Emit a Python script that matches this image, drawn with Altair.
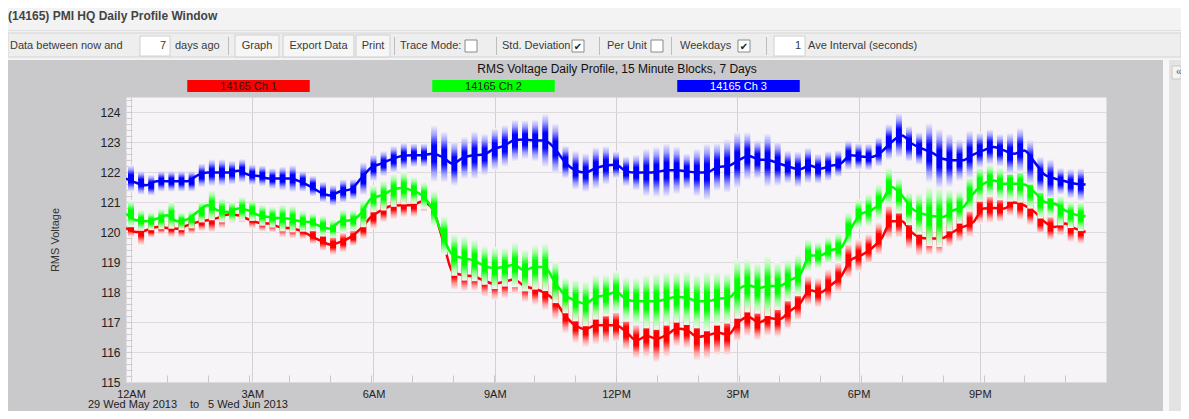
import altair as alt
import pandas as pd

# ---------------- data ----------------
series_names = ["14165 Ch 1", "14165 Ch 2", "14165 Ch 3"]
series_colors = ["#ff0000", "#00ff00", "#0000ff"]
series_tints = ["#ffa0a0", "#a0ffa0", "#a0a0ff"]
legend_text_colors = ["#1a1a1a", "#1a1a1a", "#ffffff"]

slot_hours = [i * 0.25 for i in range(95)]  # 15-minute blocks

ch1_mean = [
    120.13, 120.00, 120.06, 120.17, 120.13, 120.11, 120.22, 120.33, 120.39, 120.47, 120.58, 120.56,
    120.42, 120.31, 120.28, 120.17, 120.13, 120.06, 119.89, 119.72, 119.58, 119.67, 119.83, 120.11,
    120.50, 120.72, 120.87, 120.89, 120.89, 121.02, 120.78, 119.78, 118.67, 118.56, 118.53, 118.39,
    118.28, 118.33, 118.42, 118.20, 118.11, 117.98, 117.72, 117.22, 116.89, 116.76, 116.89, 116.89,
    116.89, 116.67, 116.39, 116.53, 116.44, 116.58, 116.78, 116.72, 116.50, 116.56, 116.64, 116.58,
    117.00, 117.17, 116.98, 117.13, 117.09, 117.36, 117.61, 118.06, 117.98, 118.22, 118.50, 119.06,
    119.22, 119.44, 119.78, 120.36, 120.36, 119.98, 119.80, 119.78, 119.80, 120.00, 120.17, 120.33,
    120.78, 120.80, 120.78, 120.98, 120.89, 120.67, 120.33, 120.17, 120.28, 120.11, 120.00]
ch2_mean = [
    120.61, 120.39, 120.36, 120.44, 120.56, 120.36, 120.42, 120.67, 120.89, 120.72, 120.67, 120.78,
    120.72, 120.56, 120.50, 120.47, 120.44, 120.36, 120.33, 120.20, 120.11, 120.36, 120.39, 120.61,
    121.11, 121.22, 121.39, 121.47, 121.39, 121.22, 120.78, 119.89, 119.24, 119.13, 119.06, 118.89,
    118.80, 118.83, 118.91, 118.72, 118.83, 118.83, 118.33, 117.89, 117.72, 117.61, 117.83, 117.89,
    118.00, 117.76, 117.69, 117.69, 117.69, 117.78, 117.83, 117.80, 117.69, 117.69, 117.78, 117.80,
    118.11, 118.22, 118.13, 118.20, 118.20, 118.39, 118.56, 119.22, 119.22, 119.39, 119.47, 120.11,
    120.60, 120.72, 121.00, 121.50, 121.22, 120.78, 120.61, 120.53, 120.50, 120.72, 120.83, 121.28,
    121.61, 121.72, 121.61, 121.61, 121.58, 121.33, 121.00, 120.94, 120.72, 120.58, 120.53]
ch3_mean = [
    121.78, 121.64, 121.56, 121.69, 121.69, 121.69, 121.69, 121.89, 121.98, 121.98, 121.98, 122.04,
    121.91, 121.87, 121.78, 121.78, 121.78, 121.69, 121.53, 121.33, 121.22, 121.36, 121.42, 121.78,
    122.14, 122.28, 122.42, 122.53, 122.56, 122.56, 122.61, 122.50, 122.28, 122.47, 122.56, 122.58,
    122.76, 122.87, 123.05, 123.08, 123.05, 123.05, 122.78, 122.33, 122.06, 121.98, 122.13, 122.22,
    122.24, 122.02, 121.98, 121.98, 122.00, 122.06, 122.06, 122.02, 121.98, 122.00, 122.17, 122.20,
    122.39, 122.53, 122.42, 122.39, 122.28, 122.17, 122.09, 122.22, 122.11, 122.20, 122.28, 122.56,
    122.52, 122.50, 122.67, 123.00, 123.22, 122.94, 122.78, 122.64, 122.44, 122.39, 122.39, 122.58,
    122.72, 122.83, 122.72, 122.61, 122.72, 122.33, 121.91, 121.78, 121.69, 121.61, 121.58]

ch1_sd = [
    0.30, 0.45, 0.25, 0.25, 0.30, 0.30, 0.30, 0.30, 0.40, 0.35, 0.30, 0.25,
    0.30, 0.30, 0.30, 0.35, 0.35, 0.30, 0.30, 0.35, 0.35, 0.35, 0.30, 0.35,
    0.40, 0.40, 0.45, 0.40, 0.40, 0.35, 0.45, 0.55, 0.60, 0.55, 0.50, 0.55,
    0.55, 0.55, 0.50, 0.55, 0.55, 0.60, 0.65, 0.60, 0.60, 0.60, 0.65, 0.60,
    0.55, 0.60, 0.60, 0.70, 0.80, 0.75, 0.60, 0.60, 0.80, 0.80, 0.75, 0.70,
    0.65, 0.65, 0.60, 0.60, 0.60, 0.60, 0.55, 0.50, 0.50, 0.55, 0.50, 0.60,
    0.55, 0.50, 0.55, 0.60, 0.55, 0.55, 0.60, 0.55, 0.55, 0.50, 0.50, 0.50,
    0.50, 0.50, 0.45, 0.45, 0.50, 0.45, 0.40, 0.45, 0.40, 0.45, 0.40]
ch2_sd = [
    0.45, 0.35, 0.30, 0.35, 0.45, 0.30, 0.30, 0.35, 0.50, 0.40, 0.35, 0.40,
    0.35, 0.35, 0.35, 0.45, 0.45, 0.35, 0.30, 0.35, 0.30, 0.40, 0.35, 0.45,
    0.45, 0.50, 0.55, 0.55, 0.45, 0.45, 0.60, 0.65, 0.70, 0.75, 0.70, 0.65,
    0.70, 0.65, 0.75, 0.70, 0.75, 0.80, 0.70, 0.60, 0.70, 0.75, 0.75, 0.70,
    0.70, 0.75, 0.80, 0.90, 0.95, 0.90, 0.85, 0.90, 0.90, 1.00, 0.90, 0.85,
    1.00, 0.90, 0.85, 1.00, 0.80, 0.70, 0.70, 0.55, 0.45, 0.45, 0.50, 0.55,
    0.50, 0.55, 0.60, 0.65, 0.60, 0.55, 0.70, 1.00, 1.00, 0.70, 0.55, 0.60,
    0.60, 0.55, 0.55, 0.60, 0.60, 0.55, 0.55, 0.45, 0.50, 0.45, 0.50]
ch3_sd = [
    0.45, 0.40, 0.35, 0.35, 0.35, 0.35, 0.35, 0.40, 0.45, 0.45, 0.40, 0.40,
    0.35, 0.35, 0.35, 0.40, 0.45, 0.35, 0.35, 0.35, 0.35, 0.40, 0.35, 0.55,
    0.45, 0.42, 0.45, 0.45, 0.40, 0.40, 0.95, 0.85, 0.75, 0.70, 0.80, 0.70,
    0.70, 0.70, 0.70, 0.65, 0.70, 0.90, 0.85, 0.55, 0.65, 0.65, 0.70, 0.65,
    0.45, 0.50, 0.60, 0.80, 0.85, 0.90, 0.80, 0.60, 0.80, 0.95, 0.80, 0.90,
    0.95, 0.80, 0.65, 0.90, 0.75, 0.55, 0.60, 0.60, 0.50, 0.50, 0.45, 0.50,
    0.45, 0.45, 0.50, 0.60, 0.75, 0.60, 0.55, 1.00, 1.00, 0.90, 0.70, 0.80,
    0.60, 0.60, 0.55, 0.70, 0.75, 0.75, 0.60, 0.65, 0.45, 0.50, 0.55]

x_tick_values = [0, 3, 6, 9, 12, 15, 18, 21]
x_tick_labels = ["12AM", "3AM", "6AM", "9AM", "12PM", "3PM", "6PM", "9PM"]
x_minor_ticks = list(range(1, 24))
y_tick_values = [115, 116, 117, 118, 119, 120, 121, 122, 123, 124]
y_minor_ticks = [round(115 + 0.2 * k, 1) for k in range(1, 48)]

chart_title = "RMS Voltage Daily Profile, 15 Minute Blocks, 7 Days"
y_title = "RMS Voltage"
window_title = "(14165) PMI HQ Daily Profile Window"

# ---------------- styling ----------------
FONT = "Liberation Sans"
PLOT_BG = "#f7f4f7"
PANEL_BG = "#c9c8cb"
W, H = 980, 285
OX, OY = 126, 97  # page position of the plot origin


def px(v):
    return v - OX


def py(v):
    return v - OY


XS = alt.Scale(domain=[0, 24], nice=False, zero=False)
YS = alt.Scale(domain=[115, 124.5], nice=False, zero=False)


def frame(mean, sd, name):
    return pd.DataFrame({
        "hour": slot_hours,
        "mean": mean,
        "lo": [m - s for m, s in zip(mean, sd)],
        "hi": [m + s for m, s in zip(mean, sd)],
        "series": name,
    })


def gradient(color, tint):
    return {
        "gradient": "linear", "x1": 0, "y1": 0, "x2": 0, "y2": 1,
        "stops": [
            {"offset": 0.0, "color": PLOT_BG},
            {"offset": 0.17, "color": tint},
            {"offset": 0.36, "color": color},
            {"offset": 0.64, "color": color},
            {"offset": 0.83, "color": tint},
            {"offset": 1.0, "color": PLOT_BG},
        ],
    }


main_x_axis = alt.Axis(
    orient="bottom", values=x_tick_values,
    labelExpr="%s[round(datum.value / 3)]" % str(x_tick_labels),
    grid=True, gridColor="#d3cfd3", ticks=False, domain=False,
    labelFont=FONT, labelFontSize=11, labelColor="#222222", labelPadding=6,
    title=None,
)
main_y_axis = alt.Axis(
    orient="left", values=y_tick_values, grid=True, gridColor="#dedade",
    ticks=False, domain=False, labelFont=FONT, labelFontSize=12,
    labelColor="#222222", labelPadding=6,
    title=y_title, titleFont=FONT, titleFontSize=11, titleFontWeight="normal",
    titleColor="#333333", titleX=-71, titleY=H / 2, titleAngle=270,
    titleAlign="center", titleBaseline="middle",
)
minor_x_axis = alt.Axis(
    orient="bottom", values=x_minor_ticks, labels=False, domain=False, grid=False,
    ticks=True, tickSize=7, offset=-7, tickColor="#c9c5c9", title=None,
)
minor_y_axis = alt.Axis(
    orient="left", values=y_minor_ticks, labels=False, domain=False, grid=False,
    ticks=True, tickSize=6, offset=-6, tickColor="#cfcbcf", title=None,
)

data_layers = []
means = [ch1_mean, ch2_mean, ch3_mean]
sds = [ch1_sd, ch2_sd, ch3_sd]
for k in range(3):
    df = frame(means[k], sds[k], series_names[k])
    bx = main_x_axis if k == 0 else None
    by = main_y_axis if k == 0 else None
    lx = minor_x_axis if k == 0 else None
    ly = minor_y_axis if k == 0 else None
    bars = alt.Chart(df).mark_bar(
        size=6, clip=True, orient="vertical",
        color=gradient(series_colors[k], series_tints[k]),
    ).encode(
        x=alt.X("hour:Q", scale=XS, axis=bx),
        y=alt.Y("lo:Q", scale=YS, axis=by),
        y2="hi:Q",
    )
    line = alt.Chart(df).mark_line(
        color=series_colors[k], strokeWidth=2.5, interpolate="monotone", clip=True,
    ).encode(
        x=alt.X("hour:Q", scale=XS, axis=lx),
        y=alt.Y("mean:Q", scale=YS, axis=ly),
    )
    data_layers += [bars, line]

# ---------------- legend (colored bars with labels) ----------------
legend_df = pd.DataFrame({"series": series_names})
band = alt.Scale(domain=series_names, range=[0, 735], paddingInner=0.5, paddingOuter=0.25)
legend_rect = alt.Chart(legend_df).mark_rect().encode(
    x=alt.X("series:N", scale=band, axis=None, sort=series_names),
    y=alt.value(py(80)), y2=alt.value(py(92)),
    color=alt.Color("series:N", scale=alt.Scale(domain=series_names, range=series_colors), legend=None),
)
legend_text = alt.Chart(legend_df).mark_text(
    font=FONT, fontSize=11, baseline="middle", align="center",
).encode(
    x=alt.X("series:N", scale=band, axis=None, sort=series_names, bandPosition=0.5),
    y=alt.value(py(86.5)),
    text="series:N",
    color=alt.Color("series:N", scale=alt.Scale(domain=series_names, range=legend_text_colors), legend=None),
)

# ---------------- window chrome ----------------
one = pd.DataFrame({"k": [0]})


def box(x1, x2, y1, y2, fill, stroke=None):
    kw = {"fill": fill}
    if stroke:
        kw["stroke"] = stroke
        kw["strokeWidth"] = 1
    return alt.Chart(one).mark_rect(**kw).encode(
        x=alt.value(px(x1)), x2=alt.value(px(x2)),
        y=alt.value(py(y1)), y2=alt.value(py(y2)),
    )


def label(text, x, y, size=11, align="left", color="#3a3a3a", weight="normal", font=FONT, baseline="middle"):
    return alt.Chart(one).mark_text(
        text=text, font=font, fontSize=size, align=align, baseline=baseline,
        color=color, fontWeight=weight,
    ).encode(x=alt.value(px(x)), y=alt.value(py(y)))


chrome = [
    box(8, 1181, 8, 60, "#f3f3f3"),
    box(8, 1181, 30, 31, "#dedede"),
    box(8, 1181, 33, 57, "#eeeeee", "#d4d4d4"),
    box(1163, 1169, 60, 411, "#f7f7f7"),
    box(1169, 1181, 60, 411, "#e3e3e3"),
    box(1172, 1181, 66, 79, "#f4f4f4", "#c8c8c8"),
    label("\u00ab", 1176, 72, size=10, color="#666666"),
    label(window_title, 8, 16, size=12, weight="bold", color="#444444"),
    label("Data between now and", 10, 46),
    box(140, 170, 36, 56, "#ffffff", "#d0d0d0"),
    label("7", 166, 46, align="right"),
    label("days ago", 175, 46),
    box(228, 229, 37, 55, "#bdbdbd"),
    box(235, 279, 35, 57, "#f6f6f6", "#cfcfcf"),
    label("Graph", 257, 46, align="center"),
    box(283, 354, 35, 57, "#f6f6f6", "#cfcfcf"),
    label("Export Data", 318.5, 46, align="center"),
    box(356, 390, 35, 57, "#f6f6f6", "#cfcfcf"),
    label("Print", 373, 46, align="center"),
    box(394, 395, 37, 55, "#bdbdbd"),
    label("Trace Mode:", 400, 46),
    box(465, 477, 40, 52, "#ffffff", "#8a8a8a"),
    box(496, 497, 37, 55, "#bdbdbd"),
    label("Std. Deviation", 502, 46),
    box(572, 584, 40, 52, "#ffffff", "#8a8a8a"),
    label("\u2714", 578, 46.5, size=10, align="center", color="#222222", font="DejaVu Sans"),
    box(599, 600, 37, 55, "#bdbdbd"),
    label("Per Unit", 607, 46),
    box(651, 663, 40, 52, "#ffffff", "#8a8a8a"),
    box(671, 672, 37, 55, "#bdbdbd"),
    label("Weekdays", 680, 46),
    box(738, 750, 40, 52, "#ffffff", "#8a8a8a"),
    label("\u2714", 744, 46.5, size=10, align="center", color="#222222", font="DejaVu Sans"),
    box(766, 767, 37, 55, "#bdbdbd"),
    box(774, 805, 36, 56, "#ffffff", "#d0d0d0"),
    label("1", 801, 46, align="right"),
    label("Ave Interval (seconds)", 808, 46),
]

texts = [
    label(chart_title, 617, 69, size=12, align="center", color="#111111"),
    label("29 Wed May 2013", 88, 410, size=11, color="#222222", baseline="bottom"),
    label("to", 190, 410, size=11, color="#222222", baseline="bottom"),
    label("5 Wed Jun 2013", 208, 410, size=11, color="#222222", baseline="bottom"),
]

chart = alt.layer(
    *chrome, *data_layers, legend_rect, legend_text, *texts
).resolve_scale(
    x="independent", color="independent"
).resolve_axis(
    x="independent", y="independent"
).properties(
    width=W, height=H,
    padding={"left": OX - 8, "top": OY - 8, "right": 1173 - (OX - 8) - W, "bottom": 403 - (OY - 8) - H},
    autosize=alt.AutoSizeParams(type="none"),
    background=PANEL_BG,
).configure_view(
    fill=PLOT_BG, stroke="transparent"
)

chart.save("out.html", embed_options={"renderer": "svg", "actions": False})
